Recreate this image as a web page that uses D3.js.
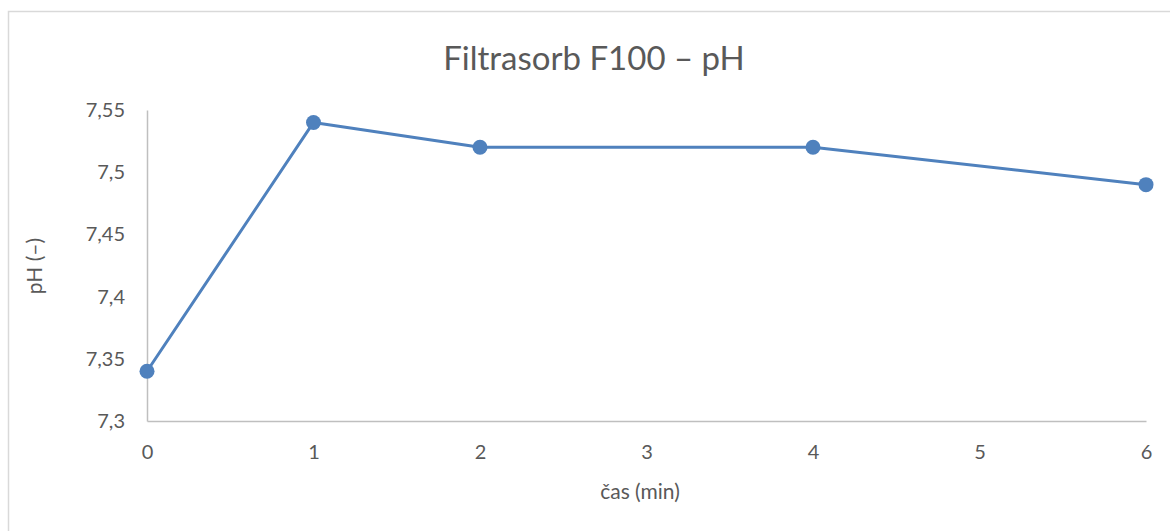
<!DOCTYPE html>
<html>
<head>
<meta charset="utf-8">
<script src="https://cdn.jsdelivr.net/npm/d3@7"></script>
<style>
  body { margin: 0; background: #fff; }
  svg { display: block; font-family: Lato, "Open Sans", sans-serif; }
</style>
</head>
<body>
<div id="chart"></div>
<script>
const width = 1170;
const height = 531;

// data
const times = [0, 1, 2, 4, 6];
const phValues = [7.34, 7.54, 7.52, 7.52, 7.49];
const xTicks = [0, 1, 2, 3, 4, 5, 6];
const yTicks = [7.3, 7.35, 7.4, 7.45, 7.5, 7.55];

const titleText = "Filtrasorb F100 – pH";
const xLabel = "čas (min)";
const yLabel = "pH (–)";

const margin = {top: 110, right: 24, bottom: 110, left: 147};
const textColor = "#595959";
const axisColor = "#bfbfbf";
const lineColor = "#4f81bd";

const svg = d3.select("#chart").append("svg")
    .attr("width", width)
    .attr("height", height);

// chart area border
svg.append("rect")
    .attr("x", 8.5)
    .attr("y", 11.5)
    .attr("width", width + 20)
    .attr("height", height + 20)
    .attr("fill", "#fff")
    .attr("stroke", "#d9d9d9")
    .attr("stroke-width", 1.5);

const x = d3.scaleLinear()
    .domain([0, 6])
    .range([margin.left, width - margin.right]);

const y = d3.scaleLinear()
    .domain([7.3, 7.55])
    .range([height - margin.bottom, margin.top]);

const fmt = d => d3.format(".2~f")(d).replace(".", ",");

// y axis
const yAxis = svg.append("g")
    .attr("transform", `translate(${margin.left},0)`)
    .call(d3.axisLeft(y).tickValues(yTicks).tickFormat(fmt).tickSize(0).tickPadding(22));
yAxis.select(".domain").attr("stroke", axisColor).attr("stroke-width", 1.5);
yAxis.selectAll("text")
    .attr("fill", textColor)
    .style("font-size", "20px")
    .style("font-family", "Lato, sans-serif");

// x axis
const xAxis = svg.append("g")
    .attr("transform", `translate(0,${height - margin.bottom})`)
    .call(d3.axisBottom(x).tickValues(xTicks).tickFormat(d3.format("d")).tickSize(0).tickPadding(24));
xAxis.select(".domain").attr("stroke", axisColor).attr("stroke-width", 1.5);
xAxis.selectAll("text")
    .attr("fill", textColor)
    .style("font-size", "20px")
    .style("font-family", "Lato, sans-serif");

// series line
const line = d3.line()
    .x((d, i) => x(times[i]))
    .y(d => y(d));

svg.append("path")
    .datum(phValues)
    .attr("fill", "none")
    .attr("stroke", lineColor)
    .attr("stroke-width", 3)
    .attr("stroke-linejoin", "round")
    .attr("d", line);

svg.selectAll(".dot")
    .data(phValues)
    .join("circle")
    .attr("class", "dot")
    .attr("cx", (d, i) => x(times[i]))
    .attr("cy", d => y(d))
    .attr("r", 7.5)
    .attr("fill", lineColor);

// title
svg.append("text")
    .attr("x", 594)
    .attr("y", 70)
    .attr("text-anchor", "middle")
    .attr("fill", textColor)
    .style("font-size", "33px")
    .text(titleText);

// axis titles
svg.append("text")
    .attr("x", 640)
    .attr("y", 499)
    .attr("text-anchor", "middle")
    .attr("fill", textColor)
    .style("font-size", "21px")
    .text(xLabel);

svg.append("text")
    .attr("transform", "translate(42,266) rotate(-90)")
    .attr("text-anchor", "middle")
    .attr("fill", textColor)
    .style("font-size", "21px")
    .text(yLabel);
</script>
</body>
</html>
